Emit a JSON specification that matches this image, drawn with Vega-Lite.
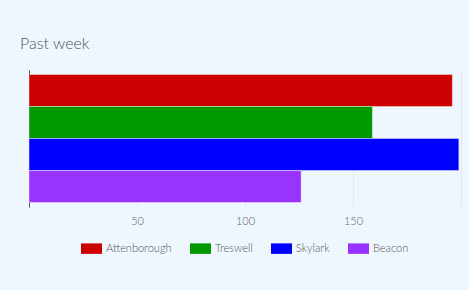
{
  "$schema": "https://vega.github.io/schema/vega-lite/v6.json",
  "autosize": "none",
  "width": 432,
  "height": 137,
  "padding": {"left": 29, "top": 70, "right": 8, "bottom": 83},
  "background": "#EEF6FE",
  "title": {
    "text": "Past week",
    "anchor": "start",
    "frame": "group",
    "dx": -9,
    "offset": 18,
    "font": "Lato",
    "fontSize": 16,
    "fontWeight": 300,
    "color": "#555555"
  },
  "data": {
    "values": [
      {"name": "Attenborough", "value": 196},
      {"name": "Treswell", "value": 159},
      {"name": "Skylark", "value": 199},
      {"name": "Beacon", "value": 126}
    ]
  },
  "mark": {"type": "bar", "stroke": "white", "strokeOpacity": 0.4, "strokeWidth": 1},
  "encoding": {
    "y": {
      "field": "name",
      "type": "nominal",
      "sort": ["Attenborough", "Treswell", "Skylark", "Beacon"],
      "scale": {"paddingInner": 0, "paddingOuter": 0.14},
      "axis": {
        "title": null,
        "labels": false,
        "ticks": false,
        "domainColor": "#555555",
        "domainWidth": 1
      }
    },
    "x": {
      "field": "value",
      "type": "quantitative",
      "scale": {"domain": [0, 200], "nice": false},
      "axis": {
        "title": null,
        "values": [0, 50, 100, 150, 200],
        "labelExpr": "datum.value == 0 || datum.value == 200 ? '' : datum.label",
        "domain": false,
        "ticks": false,
        "grid": true,
        "gridColor": "#DDEAF6",
        "labelFont": "Lato",
        "labelFontSize": 11,
        "labelFontWeight": 300,
        "labelColor": "#666666",
        "labelPadding": 8
      }
    },
    "color": {
      "field": "name",
      "type": "nominal",
      "sort": ["Attenborough", "Treswell", "Skylark", "Beacon"],
      "scale": {
        "domain": ["Attenborough", "Treswell", "Skylark", "Beacon"],
        "range": ["#CC0000", "#009900", "#0000FF", "#9933FF"]
      },
      "legend": {
        "title": null,
        "orient": "none",
        "direction": "horizontal",
        "legendX": 52,
        "legendY": 168,
        "symbolType": "M-1,-0.5h2v1h-2z",
        "symbolSize": 441,
        "symbolStrokeWidth": 0,
        "symbolOpacity": 1,
        "labelFont": "Lato",
        "labelFontSize": 11,
        "labelFontWeight": 300,
        "labelColor": "#555555",
        "labelOffset": 4,
        "columnPadding": 18
      }
    }
  },
  "config": {"view": {"stroke": null}}
}
